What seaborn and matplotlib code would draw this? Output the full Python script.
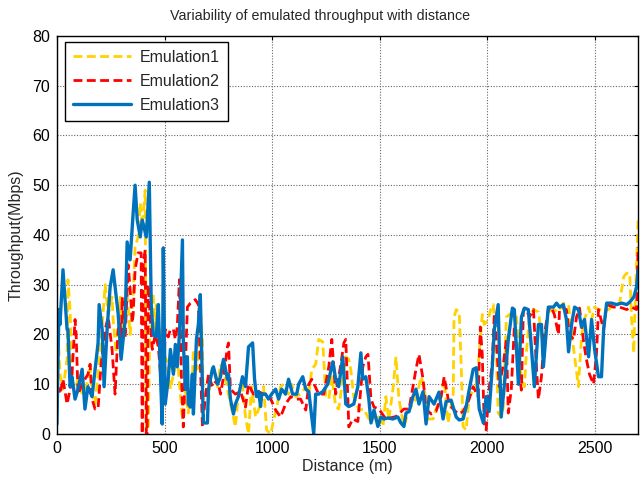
import matplotlib
matplotlib.use("Agg")
import matplotlib.pyplot as plt
import seaborn as sns
import pandas as pd

# ---- Data ----
dist_e3 = [0, 9, 14, 28, 47, 51, 61, 70, 84, 98, 117, 130, 144, 163, 177, 191, 196, 210, 219, 233,
           247, 261, 284, 298, 317, 326, 340, 354, 363, 373, 387, 396, 415, 429, 438, 447, 461, 471, 480, 489,
           494, 503, 517, 527, 541, 550, 559, 569, 583, 587, 596, 606, 610, 620, 629, 634, 648, 657, 666, 676,
           680, 699, 704, 722, 727, 746, 760, 769, 774, 792, 797, 806, 820, 829, 843, 862, 876, 890, 909, 918,
           927, 937, 946, 951, 969, 983, 997, 1016, 1030, 1044, 1062, 1076, 1095, 1114, 1123, 1142, 1156, 1170, 1193, 1202,
           1216, 1235, 1258, 1282, 1295, 1309, 1328, 1342, 1356, 1379, 1398, 1412, 1421, 1435, 1449, 1459, 1473, 1491, 1505, 1519,
           1538, 1561, 1584, 1598, 1612, 1622, 1636, 1654, 1668, 1682, 1701, 1715, 1729, 1752, 1775, 1794, 1808, 1831, 1855, 1869,
           1887, 1901, 1915, 1934, 1948, 1962, 1981, 1994, 2008, 2022, 2032, 2050, 2055, 2064, 2078, 2097, 2116, 2125, 2144, 2158,
           2172, 2190, 2204, 2218, 2237, 2251, 2260, 2274, 2283, 2307, 2321, 2335, 2353, 2367, 2377, 2391, 2405, 2423, 2437, 2451,
           2470, 2484, 2498, 2516, 2530, 2540, 2554, 2577, 2600, 2624, 2647, 2661, 2680, 2693, 2700]
tput_e3 = [2, 25, 22, 33, 21, 21, 9.5, 11.5, 7, 9, 13, 5, 9.5, 7.5, 13, 18.3, 26, 21, 9.5, 21,
           29.5, 33, 24.3, 15, 23, 38.6, 35, 44.4, 50, 43, 39.6, 43, 39.6, 50.6, 26, 20, 19.5, 26, 13, 2,
           37.4, 6, 11, 17, 12, 18, 13.5, 20, 39, 19, 9, 15.5, 6, 5.4, 12, 4, 19, 22, 28, 9,
           2.2, 2.2, 9, 13, 13.5, 10, 11.5, 14, 15, 11, 12, 7, 4, 6, 7.5, 11.5, 9.5, 17.5, 18.3, 11,
           7.5, 8.5, 5.5, 8, 8, 7, 8, 9, 7, 9, 8, 11, 8, 8, 10, 11.5, 9, 8.5, 0, 8,
           8, 8.5, 10, 14.5, 11, 9.5, 15.5, 6, 5.5, 6, 9.5, 16.3, 11, 11.5, 7, 2.2, 4.8, 1.5, 3.4, 3,
           3.2, 3, 3.4, 2.2, 1.5, 4.2, 4.5, 7.5, 9, 6, 8.5, 2, 7.5, 6, 8.4, 3, 6.5, 6.8, 3.4, 2.8,
           3, 5.4, 8.8, 13, 13.3, 5, 2.2, 7.5, 4.5, 13, 21, 26, 17.5, 3.4, 9.5, 19, 25.3, 25, 10, 23.5,
           25.3, 25, 17.5, 9.5, 22, 22, 13.5, 21, 25.5, 25.5, 26.3, 25.5, 26, 23, 16.5, 22, 25.5, 25, 21.5, 23,
           15.5, 23, 17, 11.5, 11.5, 21, 26.3, 26.3, 26, 26.3, 26, 26.5, 27.5, 29.5, 33]

dist_e2 = [0, 14, 28, 47, 61, 70, 84, 89, 98, 117, 130, 144, 154, 163, 177, 191, 205, 224, 238, 256,
           270, 284, 294, 298, 303, 317, 331, 340, 350, 354, 363, 377, 391, 396, 401, 410, 415, 419, 424, 443,
           457, 471, 485, 489, 503, 517, 527, 541, 550, 559, 569, 578, 587, 606, 620, 643, 657, 676, 690, 704,
           722, 746, 760, 774, 792, 797, 806, 829, 853, 876, 890, 913, 937, 960, 983, 1016, 1039, 1062, 1086, 1109,
           1132, 1156, 1170, 1184, 1216, 1240, 1263, 1277, 1295, 1319, 1333, 1342, 1356, 1375, 1398, 1421, 1435, 1445, 1459, 1473,
           1496, 1528, 1575, 1612, 1636, 1654, 1668, 1682, 1701, 1715, 1738, 1761, 1785, 1799, 1822, 1841, 1864, 1887, 1911, 1934,
           1957, 1967, 1976, 1985, 1994, 2008, 2022, 2032, 2041, 2055, 2074, 2088, 2097, 2111, 2125, 2144, 2158, 2167, 2181, 2195,
           2214, 2227, 2237, 2251, 2265, 2283, 2297, 2311, 2330, 2335, 2353, 2367, 2381, 2400, 2414, 2428, 2447, 2460, 2474, 2493,
           2507, 2516, 2540, 2554, 2586, 2614, 2647, 2670, 2693, 2700]
tput_e2 = [10, 8, 11, 6, 9, 12, 23, 20, 8, 10, 11, 12, 14, 7, 5, 5, 14, 21, 23.5, 17,
           8, 21, 22.3, 15.5, 27.5, 19.5, 34, 29, 22.3, 24, 33, 36.4, 36.4, 0, 34.4, 37, 0, 0, 30, 17,
           20, 17.5, 10, 2, 21, 19.5, 21, 21, 19, 21.5, 31, 12, 1.4, 25.5, 26.3, 27, 26, 1.4, 7.5, 12,
           9.5, 11, 8, 11.5, 17.5, 18.3, 9, 8, 8.5, 5.4, 10, 8, 8.5, 8, 8, 4.8, 3.4, 6, 7.5, 7,
           7, 4.8, 10, 11, 8, 8, 13.5, 19, 8, 14, 18.3, 19, 1.4, 3, 2.5, 13.5, 15.5, 16, 7, 5.4,
           5, 3, 3.5, 5, 5, 9.5, 13, 16, 11, 5, 4, 4.5, 7.5, 11.5, 6, 5, 4, 4.5, 6.5, 9.5,
           7.5, 21.5, 16, 2.2, 0.8, 9, 14, 24, 19, 9.5, 14, 19, 4.2, 9, 21.5, 13, 8.8, 25, 25, 23.5,
           25, 14, 7, 11.5, 20, 25, 25.5, 24, 20, 25, 25.3, 25, 20, 19, 23.5, 25.3, 18.5, 15, 12, 10,
           16.3, 25, 21, 26, 25.5, 25.5, 25, 25.5, 25, 37.6]

dist_e1 = [0, 14, 28, 47, 51, 61, 70, 84, 98, 117, 135, 154, 163, 177, 200, 224, 238, 256, 261, 275,
           294, 303, 326, 340, 354, 363, 377, 387, 391, 396, 410, 415, 424, 433, 447, 457, 461, 485, 508, 527,
           541, 559, 573, 583, 596, 610, 629, 634, 652, 666, 676, 680, 699, 713, 727, 746, 760, 783, 797, 816,
           829, 843, 862, 876, 890, 904, 923, 946, 960, 974, 993, 1007, 1021, 1039, 1053, 1076, 1090, 1109, 1132, 1156,
           1170, 1184, 1202, 1216, 1235, 1249, 1263, 1277, 1295, 1309, 1328, 1342, 1356, 1365, 1379, 1403, 1426, 1459, 1482, 1515,
           1528, 1542, 1561, 1575, 1589, 1612, 1636, 1668, 1692, 1706, 1724, 1748, 1761, 1785, 1799, 1817, 1841, 1845, 1855, 1869,
           1878, 1887, 1901, 1915, 1948, 1962, 1976, 1985, 2004, 2018, 2027, 2041, 2050, 2064, 2074, 2088, 2111, 2134, 2158, 2172,
           2181, 2195, 2214, 2237, 2260, 2283, 2307, 2330, 2353, 2377, 2391, 2405, 2423, 2437, 2451, 2470, 2484, 2498, 2516, 2540,
           2563, 2591, 2614, 2633, 2647, 2661, 2670, 2680, 2684, 2700]
tput_e1 = [25.5, 12, 9, 15, 31, 25, 9.5, 9, 11, 8, 9, 14, 8, 6, 16, 30, 24, 27.5, 23, 16.3,
           27.5, 18.3, 28, 20, 27.5, 37.6, 39.6, 46.4, 44.4, 41.6, 49, 0.6, 0.6, 25, 28, 20, 26, 17, 15, 9,
           12, 15.5, 8, 2.8, 9, 4.2, 11, 17, 13, 25, 19, 4.2, 3.5, 11, 13.5, 9.5, 14, 11, 8, 4.2,
           1.4, 8, 10, 3.5, 0, 9.5, 3.4, 6, 9.5, 0.8, 0, 2.8, 5.4, 9.5, 10, 8, 10, 7.5, 8, 9.5,
           8, 13, 14, 19, 18.5, 7.5, 7, 11.5, 5.5, 5, 11, 15.5, 15, 13, 7.5, 4.8, 5, 2.2, 4.2, 1.5,
           7.5, 2.8, 9, 15.5, 7, 1.5, 4.8, 7, 11.5, 9.5, 3, 3, 5, 8, 11, 2.2, 8, 23.5, 25, 24.5,
           14, 1.5, 0.8, 7.5, 9.5, 16.3, 24, 22, 23, 25.5, 26, 17.5, 4.2, 3.4, 5.4, 23.5, 24.3, 24, 11, 9.5,
           16.3, 23.5, 25, 24.5, 17.5, 24.5, 25, 24.5, 26.3, 26, 20.3, 15.5, 9.5, 19.5, 23, 25.5, 23, 25.5, 25, 25,
           25, 26, 26.3, 31.6, 32.3, 32.3, 23, 16.3, 23, 43]

series_names = ["Emulation1", "Emulation2", "Emulation3"]
series_colors = ["#FFD200", "#FF0000", "#0072BD"]
x_ticks = [0, 500, 1000, 1500, 2000, 2500]
y_ticks = [0, 10, 20, 30, 40, 50, 60, 70, 80]

sns.set_style("white")
plt.rcParams["font.family"] = ["Liberation Sans", "DejaVu Sans"]

fig = plt.figure(figsize=(6.4, 4.8), dpi=100)
ax = fig.add_axes([0.089, 0.096, 0.908, 0.829])

df1 = pd.DataFrame({"d": dist_e1, "t": tput_e1})
df2 = pd.DataFrame({"d": dist_e2, "t": tput_e2})
df3 = pd.DataFrame({"d": dist_e3, "t": tput_e3})

sns.lineplot(data=df1, x="d", y="t", ax=ax, color=series_colors[0], linewidth=2.0,
             linestyle=(0, (3.2, 1.6)), label=series_names[0], estimator=None, sort=False)
sns.lineplot(data=df2, x="d", y="t", ax=ax, color=series_colors[1], linewidth=2.0,
             linestyle=(0, (3.2, 1.6)), label=series_names[1], estimator=None, sort=False)
sns.lineplot(data=df3, x="d", y="t", ax=ax, color=series_colors[2], linewidth=2.4,
             linestyle="-", label=series_names[2], estimator=None, sort=False)

ax.set_xlim(0, 2700)
ax.set_ylim(0, 80)
ax.set_xticks(x_ticks)
ax.set_yticks(y_ticks)
ax.tick_params(direction="in", length=3, labelsize=11.5, colors="black", top=True, right=True,
               pad=5)
ax.grid(True, color="#666666", linestyle=(0, (1, 1.5)), linewidth=0.8)
for sp in ax.spines.values():
    sp.set_color("black")
    sp.set_linewidth(1.0)

fig.suptitle("Variability of emulated throughput with distance", fontsize=10.3,
             x=0.5, y=0.967, va="center")
ax.set_xlabel("Distance (m)", fontsize=11.5, labelpad=2)
ax.set_ylabel("Throughput(Mbps)", fontsize=11.5, labelpad=6)

leg = ax.legend(loc="upper left", fontsize=11.5, frameon=True, fancybox=False,
                edgecolor="black", handlelength=3.6, handletextpad=0.6, borderpad=0.5,
                labelspacing=0.55, borderaxespad=0.0,
                bbox_to_anchor=(0.014, 0.985))
leg.get_frame().set_linewidth(1.0)
leg.get_frame().set_alpha(1.0)

fig.savefig("out.png", dpi=100, facecolor="white")
